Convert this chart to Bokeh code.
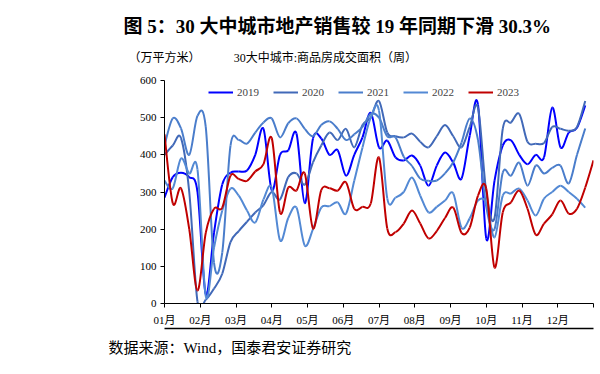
import numpy as np
from bokeh.plotting import figure
from bokeh.models import (Legend, LegendItem, Range1d, FixedTicker, ColumnDataSource,
                          LinearAxis, Title)
from bokeh.embed import file_html
from bokeh.resources import INLINE

# ---- data (weekly, 万平方米) ----
years = ["2019", "2020", "2021", "2022", "2023"]
s2019 = [285, 340, 352, 340, 300, 25, 190, 320, 352, 355, 358, 400, 470, 305, 400, 412,
         457, 270, 444, 444, 400, 412, 344, 400, 447, 513, 420, 438, 393, 385, 398, 371,
         317, 371, 406, 379, 336, 452, 535, 175, 330, 425, 439, 400, 375, 400, 393, 527,
         420, 460, 473, 533]
s2020 = [400, 425, 445, 300, 5, 10, 40, 80, 165, 195, 220, 245, 265, 300, 280, 340,
         350, 320, 380, 425, 460, 440, 470, 420, 480, 500, 545, 460, 450, 447, 457, 435,
         420, 450, 480, 450, 420, 475, 527, 300, 230, 470, 487, 510, 435, 430, 432, 475,
         470, 465, 475, 545]
s2021 = [425, 498, 471, 400, 505, 475, 110, 137, 425, 440, 430, 460, 487, 498, 447, 485,
         498, 470, 450, 480, 490, 470, 440, 455, 475, 510, 500, 450, 447, 395, 370, 336,
         330, 331, 350, 380, 433, 498, 440, 260, 200, 352, 344, 379, 317, 371, 350, 365,
         371, 323, 400, 471]
s2022 = [330, 310, 390, 350, 360, 20, 150, 250, 309, 290, 250, 218, 280, 312, 170, 230,
         258, 156, 200, 258, 262, 272, 242, 330, 420, 500, 519, 283, 285, 300, 339, 290,
         245, 260, 277, 296, 204, 229, 277, 270, 178, 290, 296, 309, 277, 237, 282, 300,
         317, 300, 282, 258]
s2023 = [455, 270, 310, 200, 35, 190, 255, 258, 344, 335, 330, 355, 375, 445, 245, 312,
         304, 350, 202, 305, 310, 304, 326, 255, 260, 269, 393, 202, 192, 215, 250, 215,
         175, 195, 230, 258, 190, 204, 290, 309, 97, 245, 272, 304, 255, 185, 215, 240,
         277, 242, 255, 312, 385]
series = [s2019, s2020, s2021, s2022, s2023]
colors = ["#0000FF", "#4169B8", "#4A7DCB", "#5389D4", "#C00000"]
month_labels = ["01月", "02月", "03月", "04月", "05月", "06月",
                "07月", "08月", "09月", "10月", "11月", "12月", ""]
y_ticks = [0, 100, 200, 300, 400, 500, 600]

title_text = "图 5：30 大中城市地产销售较 19 年同期下滑 30.3%"
unit_text = "（万平方米）"
chart_title = "30大中城市:商品房成交面积（周）"
source_text = "数据来源：Wind，国泰君安证券研究"

CJK = "Liberation Serif, Noto Sans CJK SC"
W, H = 600, 374
L, R, T, B = 164, 7, 80, 71

p = figure(width=W, height=H, output_backend="svg", toolbar_location=None,
           x_range=Range1d(0, 12), y_range=Range1d(0, 600),
           min_border_left=L, min_border_right=R, min_border_top=T,
           min_border_bottom=B)
p.outline_line_color = None
p.xgrid.visible = False
p.ygrid.visible = False

xax = p.below[0]
yax = p.left[0]
yax.ticker = FixedTicker(ticks=y_ticks)
xax.ticker = FixedTicker(ticks=list(range(13)))
xax.major_label_overrides = {i: lab for i, lab in enumerate(month_labels)}
for ax in (xax, yax):
    ax.axis_line_color = "black"
    ax.axis_line_width = 1
    ax.major_tick_line_color = "black"
    ax.major_tick_out = 4
    ax.major_tick_in = 0
    ax.minor_tick_line_color = None
    ax.major_label_text_font = CJK
    ax.major_label_text_font_size = "11px"
    ax.major_label_text_color = "black"
yax.major_label_standoff = 4
xax.major_label_standoff = 6

items = []
for name, data, c in zip(years, series, colors):
    y = np.asarray(data, dtype=float)
    n = len(y)
    x = np.arange(n) * 12.0 / 52.0
    # smoothed drawing (cubic Bezier through the weekly points)
    xp = np.concatenate([[x[0]], x, [x[-1]]])
    yp = np.concatenate([[y[0]], y, [y[-1]]])
    src = ColumnDataSource(dict(
        x0=x[:-1], y0=y[:-1], x1=x[1:], y1=y[1:],
        cx0=x[:-1] + (xp[2:n + 1] - xp[0:n - 1]) / 6.0,
        cy0=y[:-1] + (yp[2:n + 1] - yp[0:n - 1]) / 6.0,
        cx1=x[1:] - (xp[3:n + 2] - xp[1:n]) / 6.0,
        cy1=y[1:] - (yp[3:n + 2] - yp[1:n]) / 6.0,
    ))
    r = p.bezier(x0="x0", y0="y0", x1="x1", y1="y1", cx0="cx0", cy0="cy0",
                 cx1="cx1", cy1="cy1", source=src, line_color=c, line_width=2)
    items.append(LegendItem(label=name, renderers=[r]))

leg = Legend(items=items, orientation="horizontal", location=(44, 204),
             border_line_color=None, background_fill_alpha=0,
             glyph_width=25, glyph_height=14, label_standoff=4, spacing=14,
             padding=0, margin=0, label_text_font=CJK,
             label_text_font_size="11px", label_height=14)
p.add_layout(leg)

# ---- header: unit + chart title row (an extra top axis carrying two labels) ----
row2 = LinearAxis(ticker=FixedTicker(ticks=[0, 4.5]),
                  major_label_overrides={0: unit_text, 4.5: chart_title},
                  axis_line_color=None, major_tick_line_color=None,
                  minor_tick_line_color=None, major_tick_out=0, major_tick_in=0,
                  major_label_standoff=16, major_label_text_font=CJK,
                  major_label_text_font_size="12px", major_label_text_color="black")
p.add_layout(row2, "above")
p.add_layout(Title(text=title_text, align="left", offset=123 - L, standoff=22,
                   text_font=CJK, text_font_size="19px", text_font_style="bold",
                   text_color="black"), "above")

# ---- footer: rule + source ----
rule_bot = LinearAxis(ticker=FixedTicker(ticks=[]), axis_line_color="black",
                      axis_line_width=1.5, major_tick_line_color=None,
                      minor_tick_line_color=None, major_tick_out=0, major_tick_in=0)
p.add_layout(rule_bot, "below")
p.add_layout(Title(text=source_text, align="left", offset=108 - L, standoff=18,
                   text_font=CJK, text_font_size="15px", text_font_style="normal",
                   text_color="black"), "below")

open("out.html", "w").write(file_html(p, INLINE))
